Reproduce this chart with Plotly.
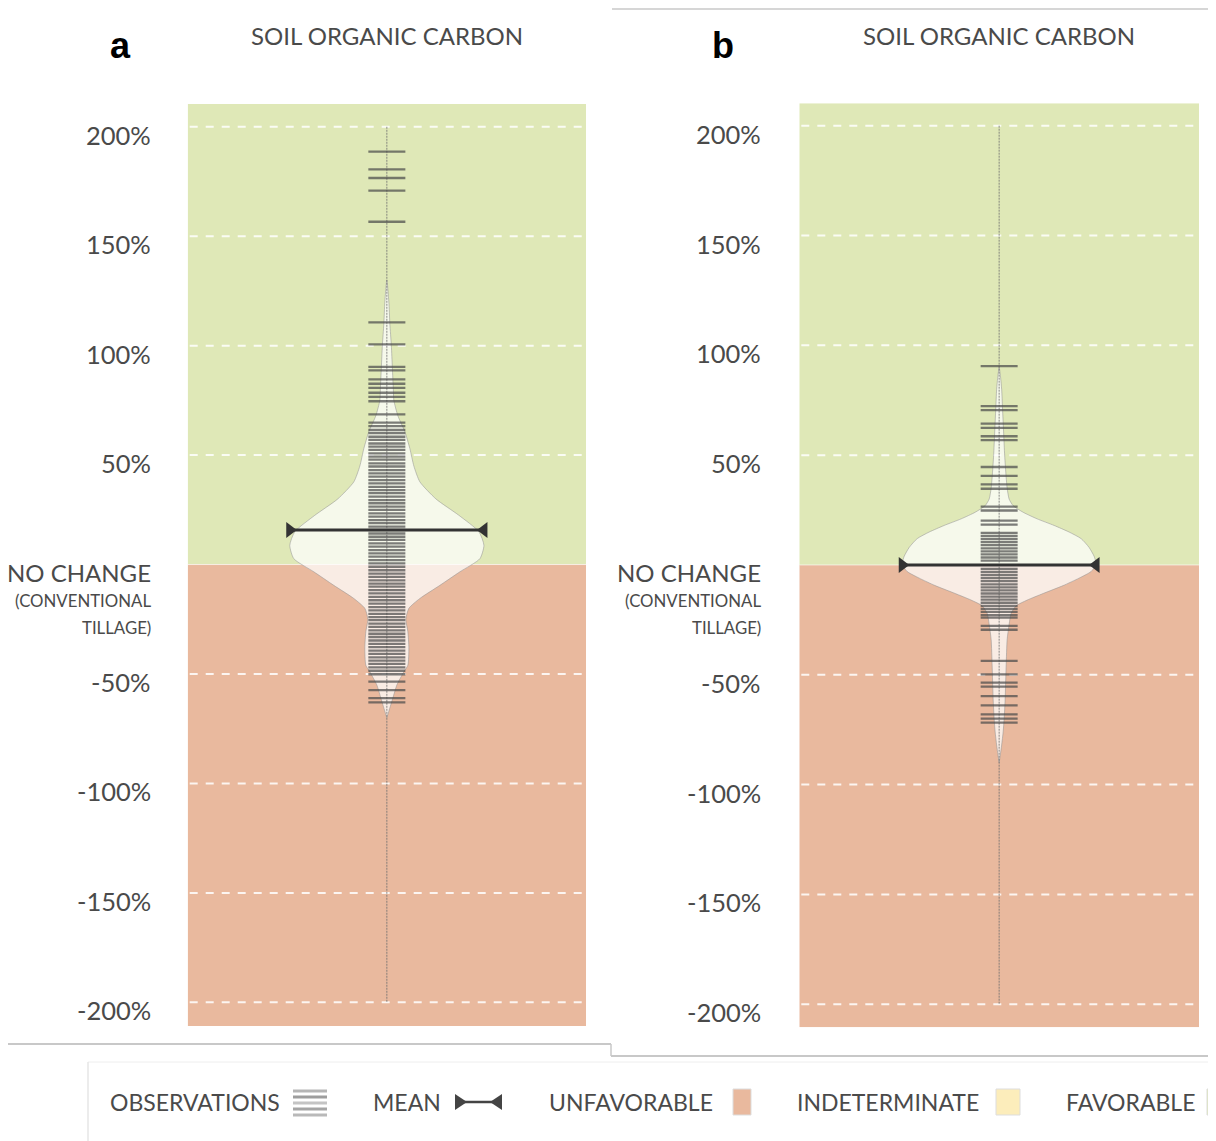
import plotly.graph_objects as go

# ---------------- data ----------------
tick_vals = [200, 150, 100, 50, -50, -100, -150, -200]
tick_labels = ["200%", "150%", "100%", "50%", "-50%", "-100%", "-150%", "-200%"]

panel_titles = ["SOIL ORGANIC CARBON", "SOIL ORGANIC CARBON"]
panel_letters = ["a", "b"]

obs_a = [188.6, 180.5, 176.6, 170.8, 156.6, 110.6, 100.6, 90.3, 88.7, 84.6, 82.6,
         80.7, 78.5, 76.6, 74.6, 68.6, 64.8,
         63.2, 61.5, 60.1, 58.4, 57.0, 55.3, 53.9, 52.4, 50.8, 49.3, 47.9, 46.2,
         44.8, 43.1, 41.7, 40.2, 38.6, 37.1, 35.5, 34.0, 32.6, 31.0, 29.4, 28.0,
         26.5, 25.0, 23.4, 21.9, 20.3, 18.9, 17.3, 15.8, 14.2, 12.7, 11.3, 9.7,
         8.2, 6.6, 5.1, 3.6, 2.0, 0.5, -1.0, -2.6, -4.1, -5.6, -7.2, -8.7, -10.1,
         -11.7, -13.2, -14.8, -16.3, -17.8, -19.4, -20.9, -22.5, -24.0, -25.4,
         -27.0, -28.5, -30.1, -31.6, -33.1, -34.7, -36.2, -37.7, -39.3, -40.8,
         -42.4, -43.9, -45.4, -47.0, -48.5, -50.1,
         -53.5, -57.4, -61.0, -63.0]

obs_b = [90.5, 72.3, 70.5, 64.4, 62.4, 58.6, 56.8, 44.6, 40.6, 36.7, 34.7, 26.6,
         24.8, 20.2, 18.4, 14.6, 13.2, 11.8, 10.4, 9.0, 7.6, 6.2, 4.8, 3.4, 2.0,
         -1.8, -3.2, -4.6, -6.0, -7.4, -8.8, -10.2, -11.6, -13.0, -14.4, -15.8,
         -17.2, -18.6, -20.0, -21.4, -22.8, -24.0, -27.7, -29.5, -43.7, -49.8,
         -53.6, -55.4, -59.7, -63.9, -68.0, -70.0, -71.8]

mean_a = 15.8
mean_b = 0.0

# violin outline: value (%) and half width (density scaled)
violin_a_y = [130, 120, 110, 100, 90, 80, 75, 68, 60.7, 53, 45, 37.8, 30, 22.5, 15,
              8.8, 2.7, -3.3, -9.5, -15.5, -20, -25, -30.7, -38, -46, -49, -55,
              -61, -67, -70]
violin_a_w = [0, 2, 3, 4.5, 5.5, 6.5, 7, 11, 18, 23, 27, 33, 49, 72, 92,
              97, 93, 73, 53, 33, 22, 19, 21, 22, 21, 17, 10,
              6, 2, 0]

violin_b_y = [90, 85, 80, 70, 60, 50, 40, 35, 30, 27, 24, 21, 18, 15, 12, 8, 4,
              1, 0, -3, -6, -9.4, -13, -16, -18.6, -22, -27, -34, -46, -61,
              -70, -76, -82, -87, -90]
violin_b_w = [0, 1.5, 2.5, 3.5, 4.5, 5.5, 7, 8, 10, 14, 24, 38, 55, 70, 82, 90, 95,
              97, 97, 92, 80, 64, 44, 28, 17, 12, 10, 8, 7, 6,
              5, 4, 2.5, 1, 0]

legend_items = ["OBSERVATIONS", "MEAN", "UNFAVORABLE", "INDETERMINATE", "FAVORABLE"]

# ---------------- style ----------------
W, H = 1216, 1141
OFF = 8  # page body margin
GREEN = "#DFE8B7"
SALMON = "#E9B99E"
YELLOW = "#FCEDBB"
TXT = "#4a4a4a"
FONT = "Lato"


def px(x):
    return (x - OFF) / W


def py(y):
    return 1 - (y - OFF) / H


panels = [
    dict(obs=obs_a, mean=mean_a, vy=violin_a_y, vw=violin_a_w,
         xpx=(187.7, 586.0), ypx=(104.0, 1026.0), yr=(-210.8, 210.4), xr=199,
         label_x=153, letter_x=120, title_x=387),
    dict(obs=obs_b, mean=mean_b, vy=violin_b_y, vw=violin_b_w,
         xpx=(799.3, 1199.0), ypx=(103.3, 1027.3), yr=(-210.5, 210.2), xr=200,
         label_x=763, letter_x=723, title_x=999),
]

fig = go.Figure()
shapes = []
annotations = []

OBS_HALF = 18.5
MEAN_HALF = 97

for i, p in enumerate(panels):
    sfx = "" if i == 0 else str(i + 1)
    xa, ya = "x" + sfx, "y" + sfx
    lo, hi = p["yr"]

    # background zones
    shapes.append(dict(type="rect", xref=xa, yref=ya, x0=-p["xr"], x1=p["xr"], y0=0, y1=hi,
                       fillcolor=GREEN, line=dict(width=0), layer="below"))
    shapes.append(dict(type="rect", xref=xa, yref=ya, x0=-p["xr"], x1=p["xr"], y0=lo, y1=0,
                       fillcolor=SALMON, line=dict(width=0), layer="below"))
    # dashed gridlines
    for t in tick_vals:
        shapes.append(dict(type="line", xref=xa, yref=ya, x0=-p["xr"] + 2, x1=p["xr"] - 2,
                           y0=t, y1=t, layer="below",
                           line=dict(color="rgba(255,255,255,0.85)", width=2, dash="8px,8px")))
    # thin boundary at zero
    shapes.append(dict(type="line", xref=xa, yref=ya, x0=-p["xr"], x1=p["xr"], y0=0, y1=0,
                       layer="below", line=dict(color="rgba(255,255,255,0.6)", width=1)))

    # violin
    vx = list(p["vw"]) + [-w for w in reversed(p["vw"])]
    vy = list(p["vy"]) + list(reversed(p["vy"]))
    fig.add_trace(go.Scatter(x=vx, y=vy, xaxis=xa, yaxis=ya, mode="lines",
                             fill="toself", fillcolor="rgba(255,255,255,0.72)",
                             line=dict(color="rgba(150,150,150,0.55)", width=1, shape="spline",
                                       smoothing=0.6),
                             hoverinfo="skip", showlegend=False))
    # centre thin line
    fig.add_trace(go.Scatter(x=[0, 0], y=[200, -200], xaxis=xa, yaxis=ya, mode="lines",
                             line=dict(color="rgba(110,110,110,0.8)", width=1, dash="2px,1px"),
                             hoverinfo="skip", showlegend=False))
    # observations
    ox, oy = [], []
    for v in p["obs"]:
        ox += [-OBS_HALF, OBS_HALF, None]
        oy += [v, v, None]
    fig.add_trace(go.Scatter(x=ox, y=oy, xaxis=xa, yaxis=ya, mode="lines",
                             line=dict(color="rgba(75,75,75,0.72)", width=2.3),
                             hoverinfo="skip", showlegend=False))
    # mean
    fig.add_trace(go.Scatter(x=[-MEAN_HALF, MEAN_HALF], y=[p["mean"], p["mean"]],
                             xaxis=xa, yaxis=ya, mode="lines+markers",
                             line=dict(color="#333333", width=3),
                             marker=dict(symbol=["triangle-right", "triangle-left"], size=14,
                                         color="#333333"),
                             hoverinfo="skip", showlegend=False))

    # axes
    x0, x1 = p["xpx"]
    y0, y1 = p["ypx"]
    fig.update_layout(**{
        "xaxis" + sfx: dict(domain=[px(x0), px(x1)], range=[-p["xr"], p["xr"]],
                            visible=False, fixedrange=True, anchor=ya),
        "yaxis" + sfx: dict(domain=[py(y1), py(y0)], range=[lo, hi],
                            visible=False, fixedrange=True, anchor=xa),
    })

    # tick labels
    for t, lab in zip(tick_vals, tick_labels):
        annotations.append(dict(text=lab, xref="paper", yref=ya, x=px(p["label_x"]), y=t,
                                xanchor="right", yanchor="middle", yshift=-8, showarrow=False,
                                font=dict(family=FONT, size=25.5, color=TXT)))
    annotations.append(dict(text="NO CHANGE", xref="paper", yref="paper",
                            x=px(p["label_x"]), y=py(573), xanchor="right", yanchor="middle",
                            showarrow=False, font=dict(family=FONT, size=24, color=TXT)))
    annotations.append(dict(text="(CONVENTIONAL", xref="paper", yref="paper",
                            x=px(p["label_x"]), y=py(600), xanchor="right", yanchor="middle",
                            showarrow=False, font=dict(family=FONT, size=16.8, color=TXT)))
    annotations.append(dict(text="TILLAGE)", xref="paper", yref="paper",
                            x=px(p["label_x"]), y=py(627), xanchor="right", yanchor="middle",
                            showarrow=False, font=dict(family=FONT, size=16.8, color=TXT)))
    # title and panel letter
    annotations.append(dict(text=panel_titles[i], xref="paper", yref="paper",
                            x=px(p["title_x"]), y=py(35), xanchor="center", yanchor="middle",
                            showarrow=False, font=dict(family=FONT, size=24, color=TXT)))
    annotations.append(dict(text="<b>%s</b>" % panel_letters[i], xref="paper", yref="paper",
                            x=px(p["letter_x"]), y=py(45), xanchor="center", yanchor="middle",
                            showarrow=False,
                            font=dict(family="Liberation Sans", size=36, color="#000000")))

# frame lines of the composite figure
frame = "#c8c8c8"
shapes += [
    dict(type="line", xref="paper", yref="paper", x0=px(612), x1=px(1230), y0=py(9), y1=py(9),
         line=dict(color=frame, width=1.5)),
    dict(type="line", xref="paper", yref="paper", x0=px(5), x1=px(611), y0=py(1044), y1=py(1044),
         line=dict(color=frame, width=2)),
    dict(type="line", xref="paper", yref="paper", x0=px(611), x1=px(611), y0=py(1044),
         y1=py(1056), line=dict(color=frame, width=1.5)),
    dict(type="line", xref="paper", yref="paper", x0=px(611), x1=px(1230), y0=py(1056),
         y1=py(1056), line=dict(color=frame, width=2)),
    # legend box
    dict(type="line", xref="paper", yref="paper", x0=px(88), x1=px(1230), y0=py(1062),
         y1=py(1062), line=dict(color="#eeeeee", width=1)),
    dict(type="line", xref="paper", yref="paper", x0=px(88), x1=px(88), y0=py(1062),
         y1=py(1150), line=dict(color="#e6e6e6", width=1.5)),
]

# legend
LEG_Y = 1102
leg_x = [108, 371, 547, 795, 1064]
for txt, lx in zip(legend_items, leg_x):
    annotations.append(dict(text=txt, xref="paper", yref="paper", x=px(lx), y=py(LEG_Y),
                            xanchor="left", yanchor="middle", showarrow=False,
                            font=dict(family=FONT, size=23, color=TXT)))
# observations icon
for k, (yy, col) in enumerate(zip([1091, 1097, 1103, 1109, 1115],
                                  ["#b5b5b5", "#9d9d9d", "#c4c4c4", "#a5a5a5", "#b9b9b9"])):
    shapes.append(dict(type="line", xref="paper", yref="paper", x0=px(293), x1=px(327),
                       y0=py(yy), y1=py(yy), line=dict(color=col, width=3)))
# mean icon
shapes.append(dict(type="line", xref="paper", yref="paper", x0=px(456), x1=px(501),
                   y0=py(LEG_Y), y1=py(LEG_Y), line=dict(color="#444444", width=2.5)))
shapes.append(dict(type="path", xref="paper", yref="paper",
                   path="M %f,%f L %f,%f L %f,%f Z" % (px(455), py(1094), px(455), py(1110),
                                                     px(467), py(LEG_Y)),
                   fillcolor="#444444", line=dict(width=0)))
shapes.append(dict(type="path", xref="paper", yref="paper",
                   path="M %f,%f L %f,%f L %f,%f Z" % (px(502), py(1094), px(502), py(1110),
                                                     px(490), py(LEG_Y)),
                   fillcolor="#444444", line=dict(width=0)))
# colour swatches
for x0, x1, col in [(733, 751, SALMON), (996, 1020, YELLOW), (1207, 1222, GREEN)]:
    shapes.append(dict(type="rect", xref="paper", yref="paper", x0=px(x0), x1=px(x1),
                       y0=py(1115), y1=py(1089), fillcolor=col,
                       line=dict(color="#dddddd", width=1)))

fig.update_layout(width=W, height=H, margin=dict(l=0, r=0, t=0, b=0),
                  paper_bgcolor="white", plot_bgcolor="rgba(0,0,0,0)",
                  shapes=shapes, annotations=annotations, showlegend=False)

fig.write_html("out.html")
